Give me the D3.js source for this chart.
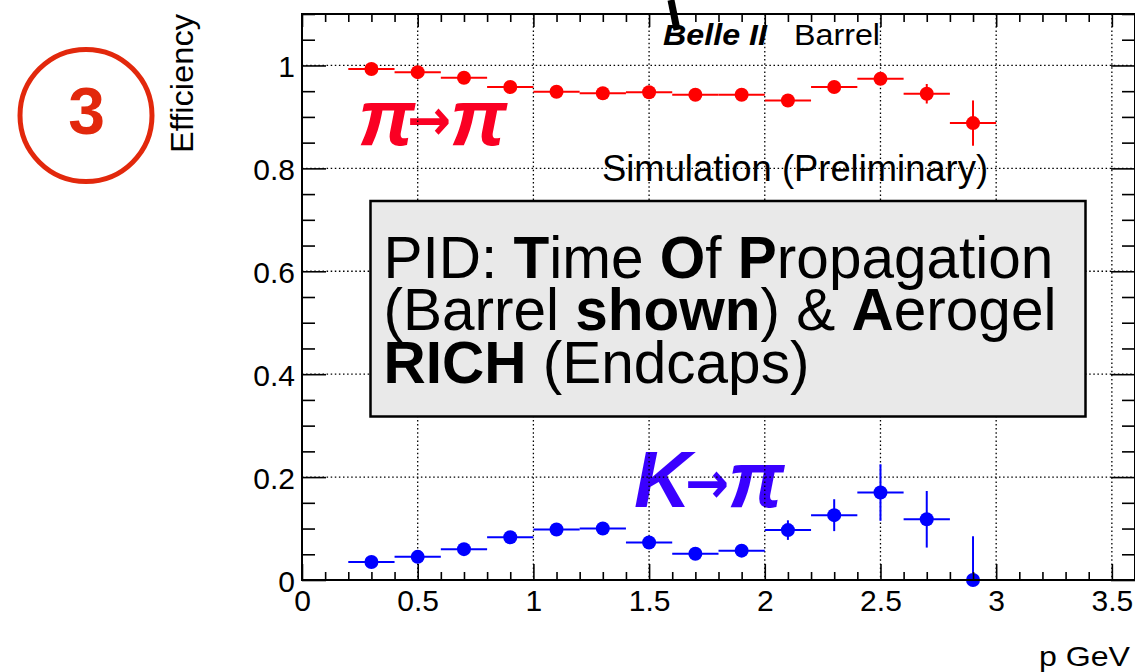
<!DOCTYPE html>
<html>
<head>
<meta charset="utf-8">
<script src="https://cdn.jsdelivr.net/npm/d3@7"></script>
<style>
html,body{margin:0;padding:0;background:#fff;}
svg{display:block;}
text{font-family:"Liberation Sans",Arial,Helvetica,sans-serif;}
</style>
</head>
<body>
<svg id="chart" width="1135" height="672"></svg>
<script>
// ---------------- data ----------------
const pCenters = [0.3,0.5,0.7,0.9,1.1,1.3,1.5,1.7,1.9,2.1,2.3,2.5,2.7,2.9];
const binWidth = 0.2;
const piPiEff = [0.993,0.987,0.976,0.958,0.949,0.946,0.948,0.943,0.943,0.932,0.958,0.974,0.945,0.888];
const piPiErr = [0.002,0.002,0.003,0.003,0.004,0.004,0.004,0.005,0.005,0.006,0.007,0.010,0.019,0.044];
const kPiEff  = [0.035,0.045,0.060,0.083,0.098,0.100,0.073,0.051,0.057,0.097,0.126,0.170,0.118,0.000];
const kPiErr  = [0.003,0.004,0.005,0.006,0.006,0.007,0.007,0.007,0.008,0.019,0.031,0.055,0.055,0.085];
const xTickLabels = [0,0.5,1,1.5,2,2.5,3,3.5];
const yTickLabels = [0,0.2,0.4,0.6,0.8,1];
const xDomain = [0,3.6];
const yDomain = [0,1.1];

// ---------------- layout ----------------
const svg = d3.select("#chart");
const L = 302, R = 1135, T = 14, B = 580;
const x = d3.scaleLinear().domain(xDomain).range([L, R]);
const y = d3.scaleLinear().domain(yDomain).range([B, T]);
const font = '"Liberation Sans",Arial,Helvetica,sans-serif';

svg.append("rect").attr("width",1135).attr("height",672).attr("fill","#fff");

svg.append("defs").append("clipPath").attr("id","frameClip")
  .append("rect").attr("x",L).attr("y",T).attr("width",R-L).attr("height",B-T);

// circled number
svg.append("circle").attr("cx",86).attr("cy",115.5).attr("r",66)
  .attr("fill","none").attr("stroke","#e2280c").attr("stroke-width",5);
svg.append("text").attr("x",86.5).attr("y",133.5).attr("text-anchor","middle")
  .attr("font-size",66).attr("font-weight","bold").attr("fill","#e2280c").text("3");

// y title
svg.append("text").attr("transform","translate(193,153) rotate(-90)")
  .attr("font-size",32).attr("textLength",139).attr("lengthAdjust","spacingAndGlyphs")
  .text("Efficiency");

// x title
svg.append("text").attr("x",1039).attr("y",666).attr("font-size",28)
  .attr("textLength",91).attr("lengthAdjust","spacingAndGlyphs").text("p GeV");

// labels under grid
function piLabel(items, color){
  items.forEach(it=>{
    const t = svg.append("text").attr("x",it.x).attr("y",it.y).attr("fill",color)
      .style("font-size",it.size+"px").style("font-weight","bold");
    if(it.arrow){
      t.style("font-family",'"DejaVu Sans",sans-serif')
       .attr("textLength",it.len).attr("lengthAdjust","spacingAndGlyphs");
    } else {
      t.style("font-style","italic");
    }
    t.text(it.txt);
  });
}
piLabel([
  {txt:"π", x:358, y:145, size:80},
  {txt:"→", x:407, y:140, size:58, arrow:true, len:44},
  {txt:"π", x:450, y:145, size:80}
], "#fa0023");
piLabel([
  {txt:"K", x:634, y:506.7, size:79},
  {txt:"→", x:685, y:503, size:58, arrow:true, len:44},
  {txt:"π", x:728, y:506.7, size:79}
], "#3a00ff");

svg.append("text").attr("x",602).attr("y",181).attr("font-size",37)
  .attr("textLength",386).attr("lengthAdjust","spacingAndGlyphs").text("Simulation (Preliminary)");

svg.append("text").attr("x",663).attr("y",45).attr("font-size",30).attr("font-weight","bold")
  .attr("font-style","italic").attr("textLength",104).attr("lengthAdjust","spacingAndGlyphs").text("Belle II");
svg.append("text").attr("x",794).attr("y",45).attr("font-size",30)
  .attr("textLength",86).attr("lengthAdjust","spacingAndGlyphs").text("Barrel");

// grid
const grid = svg.append("g").attr("stroke","#000").attr("stroke-width",1.3).attr("stroke-dasharray","1.5,2.6");
grid.selectAll("line.gx").data(xTickLabels.filter(v=>v>0)).join("line")
  .attr("x1",d=>x(d)).attr("x2",d=>x(d)).attr("y1",T).attr("y2",B);
grid.selectAll("line.gy").data(yTickLabels.filter(v=>v>0)).join("line").attr("class","gy")
  .attr("x1",L).attr("x2",R).attr("y1",d=>y(d)).attr("y2",d=>y(d));

// PID box
svg.append("rect").attr("x",370.5).attr("y",201).attr("width",715).attr("height",215.5)
  .attr("fill","#e9e9e9").attr("stroke","#000").attr("stroke-width",2.5);
const pid = svg.append("text").attr("font-size",58.5).attr("fill","#000");
const l1 = pid.append("tspan").attr("x",383.5).attr("y",278);
l1.append("tspan").text("PID: ");
l1.append("tspan").attr("font-weight","bold").text("T");
l1.append("tspan").text("ime ");
l1.append("tspan").attr("font-weight","bold").text("O");
l1.append("tspan").text("f ");
l1.append("tspan").attr("font-weight","bold").text("P");
l1.append("tspan").text("ropagation");
const l2 = pid.append("tspan").attr("x",383.5).attr("y",330);
l2.append("tspan").text("(Barrel ");
l2.append("tspan").attr("font-weight","bold").text("shown");
l2.append("tspan").text(") & ");
l2.append("tspan").attr("font-weight","bold").text("A");
l2.append("tspan").text("erogel");
const l3 = pid.append("tspan").attr("x",383.5).attr("y",382.5);
l3.append("tspan").attr("font-weight","bold").text("RICH");
l3.append("tspan").text(" (Endcaps)");

// data series
function drawSeries(vals, errs, color){
  const g = svg.append("g").attr("clip-path","url(#frameClip)");
  const pts = pCenters.map((c,i)=>({c, v:vals[i], e:errs[i]}));
  g.selectAll("line.h").data(pts).join("line")
    .attr("x1",d=>x(d.c-binWidth/2)).attr("x2",d=>x(d.c+binWidth/2))
    .attr("y1",d=>y(d.v)).attr("y2",d=>y(d.v))
    .attr("stroke",color).attr("stroke-width",2);
  g.selectAll("line.v").data(pts).join("line").attr("class","v")
    .attr("x1",d=>x(d.c)).attr("x2",d=>x(d.c))
    .attr("y1",d=>y(d.v-d.e)).attr("y2",d=>y(d.v+d.e))
    .attr("stroke",color).attr("stroke-width",2);
  svg.append("g").selectAll("circle").data(pts).join("circle")
    .attr("cx",d=>x(d.c)).attr("cy",d=>y(d.v)).attr("r",7).attr("fill",color);
}
drawSeries(piPiEff, piPiErr, "#ff0000");
drawSeries(kPiEff, kPiErr, "#0000ff");

// axes
const xMinor = d3.range(0,37).map(i=>i/10).filter(v=>Math.abs(v*2-Math.round(v*2))>1e-6);
const yMinor = d3.range(0,23).map(i=>i/20).filter(v=>Math.abs(v*5-Math.round(v*5))>1e-6);

function styleAxis(g){
  g.select(".domain").remove();
  g.selectAll(".tick line").attr("stroke","#000").attr("stroke-width",1.6);
  g.selectAll("text").attr("font-family",font).attr("font-size",30).attr("fill","#000");
}
svg.append("g").attr("transform",`translate(0,${B})`)
  .call(d3.axisBottom(x).tickValues(xTickLabels).tickSizeInner(-16).tickSizeOuter(0).tickPadding(10).tickFormat(d3.format("")))
  .call(styleAxis);
svg.append("g").attr("transform",`translate(0,${B})`)
  .call(d3.axisBottom(x).tickValues(xMinor).tickSizeInner(-8).tickSizeOuter(0).tickFormat(""))
  .call(styleAxis);
svg.append("g").attr("transform",`translate(0,${T})`)
  .call(d3.axisTop(x).tickValues(xTickLabels).tickSizeInner(-13).tickSizeOuter(0).tickFormat(""))
  .call(styleAxis);
svg.append("g").attr("transform",`translate(0,${T})`)
  .call(d3.axisTop(x).tickValues(xMinor).tickSizeInner(-8).tickSizeOuter(0).tickFormat(""))
  .call(styleAxis);
const yl = svg.append("g").attr("transform",`translate(${L},0)`)
  .call(d3.axisLeft(y).tickValues(yTickLabels).tickSizeInner(-24).tickSizeOuter(0).tickPadding(7).tickFormat(d3.format("")))
  .call(styleAxis);
yl.selectAll("text").attr("dy","0.37em");
svg.append("g").attr("transform",`translate(${L},0)`)
  .call(d3.axisLeft(y).tickValues(yMinor).tickSizeInner(-13).tickSizeOuter(0).tickFormat(""))
  .call(styleAxis);
svg.append("g").attr("transform",`translate(${R},0)`)
  .call(d3.axisRight(y).tickValues(yTickLabels).tickSizeInner(-24).tickSizeOuter(0).tickFormat(""))
  .call(styleAxis);
svg.append("g").attr("transform",`translate(${R},0)`)
  .call(d3.axisRight(y).tickValues(yMinor).tickSizeInner(-13).tickSizeOuter(0).tickFormat(""))
  .call(styleAxis);

// frame
svg.append("rect").attr("x",L).attr("y",T).attr("width",R-L).attr("height",B-T)
  .attr("fill","none").attr("stroke","#000").attr("stroke-width",2);

// stray arrow tail at top
svg.append("line").attr("x1",671).attr("y1",0).attr("x2",677).attr("y2",30)
  .attr("stroke","#000").attr("stroke-width",7);
</script>
</body>
</html>
